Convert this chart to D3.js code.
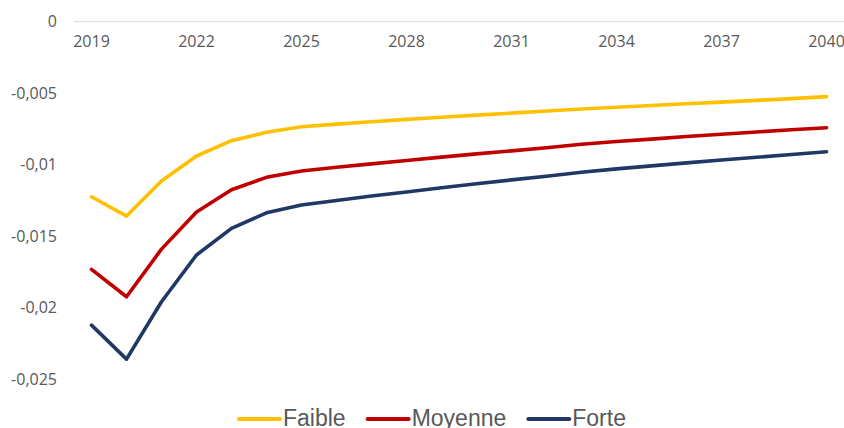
<!DOCTYPE html>
<html>
<head>
<meta charset="utf-8">
<script src="https://cdn.jsdelivr.net/npm/d3@7"></script>
<style>
  html, body { margin: 0; padding: 0; background: #fff; }
  svg { display: block; }
</style>
</head>
<body>
<div id="chart"></div>
<script>
// Donnees
const annees = d3.range(2019, 2041).map(String);
const etiquettesX = ["2019", "2022", "2025", "2028", "2031", "2034", "2037", "2040"];
const ticksY = [0, -0.005, -0.01, -0.015, -0.02, -0.025];

const faible = [-12.24, -13.59, -11.14, -9.39, -8.32, -7.73, -7.34, -7.16, -6.99, -6.83, -6.68,
  -6.53, -6.39, -6.24, -6.10, -5.98, -5.86, -5.74, -5.62, -5.50, -5.38, -5.24].map(v => v / 1000);
const moyenne = [-17.31, -19.23, -15.90, -13.31, -11.75, -10.88, -10.44, -10.18, -9.94, -9.70, -9.47,
  -9.24, -9.03, -8.81, -8.57, -8.38, -8.21, -8.03, -7.87, -7.71, -7.55, -7.41].map(v => v / 1000);
const forte = [-21.21, -23.59, -19.58, -16.31, -14.45, -13.36, -12.82, -12.50, -12.19, -11.90, -11.61,
  -11.33, -11.06, -10.80, -10.52, -10.29, -10.08, -9.87, -9.67, -9.48, -9.28, -9.09].map(v => v / 1000);

const series = [
  { nom: "Faible", valeurs: faible, couleur: "#FFC000" },
  { nom: "Moyenne", valeurs: moyenne, couleur: "#C00000" },
  { nom: "Forte", valeurs: forte, couleur: "#203864" }
];

const width = 844, height = 428;
const gris = "#595959";
const policeAxe = "'Open Sans', sans-serif";

const svg = d3.select("#chart").append("svg")
  .attr("width", width)
  .attr("height", height);

const x = d3.scaleBand().domain(annees).range([74, 844]);
const y = d3.scaleLinear().domain([-0.025, 0]).range([379.3, 21.7]);

// Ligne de l'axe a zero
svg.append("line")
  .attr("x1", 74).attr("x2", 844)
  .attr("y1", y(0)).attr("y2", y(0))
  .attr("stroke", "#d9d9d9")
  .attr("stroke-width", 1);

// Axe Y (etiquettes seulement)
const fmt = v => v === 0 ? "0" : String(v).replace(".", ",");
const axeY = svg.append("g")
  .attr("transform", "translate(57,0)")
  .call(d3.axisLeft(y).tickValues(ticksY).tickFormat(fmt).tickSize(0).tickPadding(0));
axeY.select(".domain").remove();
axeY.selectAll("text")
  .attr("fill", gris)
  .style("font-family", policeAxe)
  .style("font-size", "16px");

// Axe X (etiquettes sous la ligne zero)
const axeX = svg.append("g")
  .attr("transform", "translate(0,36)")
  .call(d3.axisBottom(x).tickValues(etiquettesX).tickSize(0).tickPadding(0));
axeX.select(".domain").remove();
axeX.selectAll("text")
  .attr("fill", gris)
  .style("font-family", policeAxe)
  .style("font-size", "16px");

// Courbes
const ligne = d3.line()
  .x((d, i) => x(annees[i]) + x.bandwidth() / 2)
  .y(d => y(d));

svg.selectAll("path.serie")
  .data(series)
  .enter()
  .append("path")
  .attr("class", "serie")
  .attr("d", d => ligne(d.valeurs))
  .attr("fill", "none")
  .attr("stroke", d => d.couleur)
  .attr("stroke-width", 3.6)
  .attr("stroke-linejoin", "round")
  .attr("stroke-linecap", "round");

// Legende
const legende = svg.append("g");
let posX = 239;
series.forEach(s => {
  legende.append("line")
    .attr("x1", posX).attr("x2", posX + 41)
    .attr("y1", 419).attr("y2", 419)
    .attr("stroke", s.couleur)
    .attr("stroke-width", 4)
    .attr("stroke-linecap", "round");
  const t = legende.append("text")
    .attr("x", posX + 44)
    .attr("y", 426)
    .attr("fill", gris)
    .style("font-family", "'Liberation Sans', Arial, sans-serif")
    .style("font-size", "23px")
    .text(s.nom);
  posX += 44 + t.node().getComputedTextLength() + 22;
});
</script>
</body>
</html>
